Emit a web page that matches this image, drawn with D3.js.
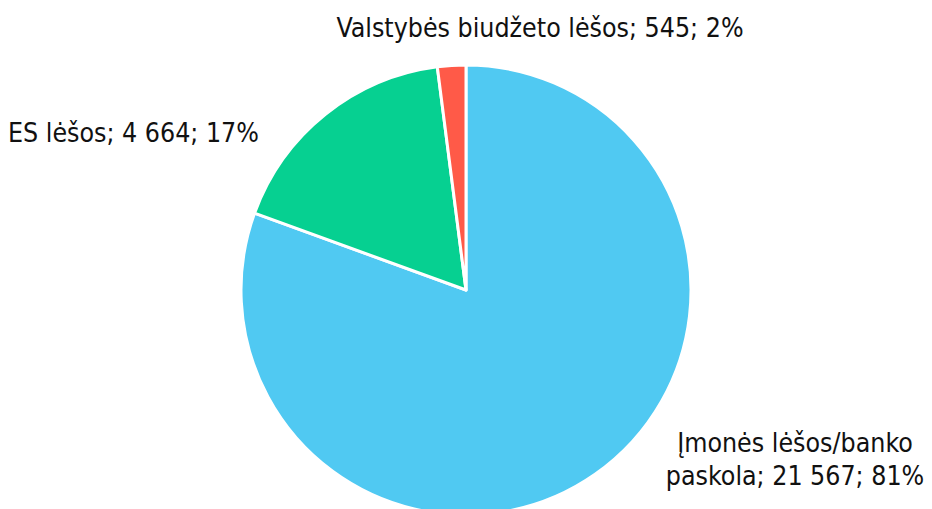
<!DOCTYPE html>
<html>
<head>
<meta charset="utf-8">
<script src="https://cdn.jsdelivr.net/npm/d3@7"></script>
<style>
  body { margin: 0; background: #fff; }
  text { font-family: "DejaVu Sans Condensed", "DejaVu Sans", sans-serif; fill: #111; }
</style>
</head>
<body>
<div id="chart"></div>
<script>
// data
var categories = ["Įmonės lėšos/banko paskola", "ES lėšos", "Valstybės biudžeto lėšos"];
var values = [21567, 4664, 545];
var percents = ["81%", "17%", "2%"];
var colors = ["#50C9F2", "#06D091", "#FF5A48"];

var width = 932, height = 509;
var cx = 466, cy = 290, radius = 225;

var svg = d3.select("#chart").append("svg")
	.attr("width", width)
	.attr("height", height);

var g = svg.append("g").attr("transform", "translate(" + cx + "," + cy + ")");

var pie = d3.pie().sort(null).value(function(d) { return d; });
var arc = d3.arc().innerRadius(0).outerRadius(radius);

var arcs = pie(values);

g.selectAll("path.slice")
	.data(arcs)
	.enter().append("path")
	.attr("class", "slice")
	.attr("d", arc)
	.attr("fill", function(d, i) { return colors[i]; })
	.attr("stroke", "#fff")
	.attr("stroke-width", 3)
	.attr("stroke-linejoin", "round");

// number format with space as thousands separator
var fmt = function(v) { return d3.format(",")(v).replace(/,/g, " "); };

// label placement (lines, anchor and position)
var labelLayout = [
	{ lines: ["Įmonės lėšos/banko", "paskola; " + fmt(values[0]) + "; " + percents[0]], x: 795, y: 451.5, anchor: "middle" },
	{ lines: [categories[1] + "; " + fmt(values[1]) + "; " + percents[1]], x: 8, y: 141.5, anchor: "start" },
	{ lines: [categories[2] + "; " + fmt(values[2]) + "; " + percents[2]], x: 540, y: 37.3, anchor: "middle" }
];

labelLayout.forEach(function(l) {
	var t = svg.append("text")
		.attr("x", l.x)
		.attr("y", l.y)
		.attr("text-anchor", l.anchor)
		.attr("font-size", "26.5px");
	l.lines.forEach(function(s, j) {
		t.append("tspan")
			.attr("x", l.x)
			.attr("dy", j === 0 ? 0 : 33)
			.text(s);
	});
});
</script>
</body>
</html>
